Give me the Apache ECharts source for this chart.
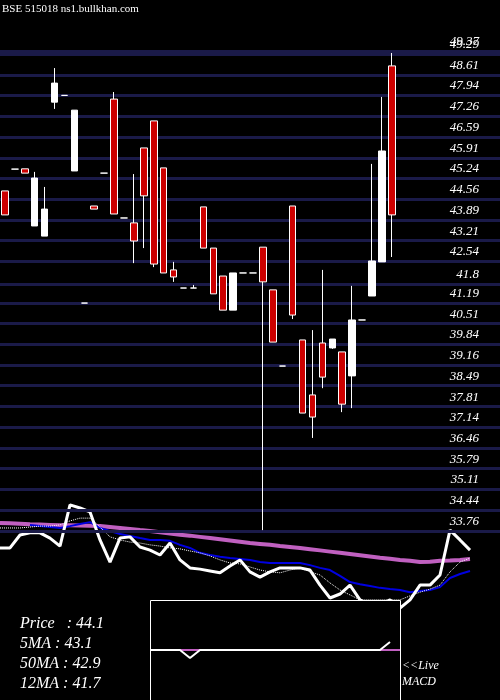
<!DOCTYPE html>
<html><head><meta charset="utf-8">
<script src="https://cdn.jsdelivr.net/npm/echarts@6/dist/echarts.min.js"></script>
<style>html,body{margin:0;padding:0;background:#000}#c{width:500px;height:700px}</style>
</head><body><div id="c"></div>
<script>
const opens  = [44.83,45.54,45.55,43.69,43.36,47.72,47.94,45.48,41.18,44.34,45.41,47.82,43.95,43.79,46.23,47.11,45.58,42.26,41.67,41.67,44.31,42.97,42.06,40.95,42.16,42.16,43.00,41.61,39.13,44.34,39.98,38.19,39.88,39.72,39.59,38.81,40.63,41.41,42.52,48.90];
const closes = [44.05,45.54,45.41,45.25,44.24,48.34,47.94,47.46,41.18,44.24,45.41,44.08,43.95,43.20,44.67,42.45,42.16,42.03,41.67,41.67,42.97,41.48,40.95,42.16,42.16,42.16,41.87,39.91,39.13,40.79,37.60,37.47,38.77,40.01,37.89,40.63,40.63,42.55,46.13,44.05];
const lows   = [44.05,45.54,45.41,43.69,43.36,47.50,47.94,45.48,41.18,44.24,45.41,44.08,43.95,42.48,42.97,42.35,42.16,41.87,41.67,41.67,42.97,41.48,40.95,40.95,42.16,42.16,33.79,39.91,39.13,40.66,37.60,36.79,38.41,39.69,37.63,37.76,40.63,41.41,42.52,42.68];
const highs  = [44.83,45.54,45.55,45.45,44.96,48.83,47.94,47.46,41.18,44.34,45.41,48.05,43.95,45.38,46.23,47.11,45.58,42.52,41.67,41.77,44.31,42.97,42.06,42.16,42.16,42.16,43.00,41.61,39.13,44.34,39.98,40.30,42.26,40.01,39.59,41.74,40.63,45.71,47.89,49.32];
const tickLabels = ["49.37","49.29","48.61","47.94","47.26","46.59","45.91","45.24","44.56","43.89","43.21","42.54","41.8","41.19","40.51","39.84","39.16","38.49","37.81","37.14","36.46","35.79","35.11","34.44","33.76"];
const lineWhite  = [33.21,33.21,33.63,33.70,33.70,33.53,33.27,34.61,34.51,34.38,33.47,32.75,33.53,33.57,33.24,33.14,32.98,33.37,32.82,32.56,32.52,32.46,32.40,32.62,32.82,32.43,32.26,32.43,32.56,32.56,32.56,32.49,32.00,31.58,31.71,32.00,31.52,31.35,31.35,31.52,31.25,31.52,32.00,32.00,32.33,33.79,33.47,33.14];
const lineMagenta= [34.02,34.01,34.00,33.98,33.97,33.96,33.95,33.95,33.94,33.93,33.92,33.89,33.86,33.83,33.79,33.76,33.72,33.68,33.64,33.61,33.57,33.53,33.49,33.45,33.41,33.37,33.34,33.31,33.27,33.24,33.21,33.17,33.13,33.09,33.05,33.01,32.97,32.93,32.89,32.86,32.82,32.79,32.75,32.76,32.79,32.80,32.82,32.85];
const lineBlue   = [null,null,null,33.96,33.92,33.89,33.86,33.92,33.99,34.05,33.86,33.76,33.66,33.60,33.53,33.47,33.47,33.44,33.31,33.21,33.05,32.98,32.92,32.88,32.85,32.82,32.75,32.72,32.72,32.72,32.72,32.65,32.56,32.49,32.30,32.10,32.03,31.97,31.91,31.87,31.84,31.77,31.81,31.84,31.94,32.23,32.36,32.46];
const lineDotted = [33.86,33.86,33.86,33.89,33.92,33.92,33.96,34.09,34.18,34.18,33.89,33.57,33.47,33.40,33.37,33.31,33.27,33.21,33.18,33.11,33.05,32.95,32.82,32.72,32.69,32.59,32.49,32.43,32.40,32.49,32.56,32.43,32.33,32.07,31.84,31.68,31.52,31.52,31.52,31.52,31.52,31.65,31.77,31.87,32.00,32.43,32.75,32.88];
const macdLine   = [0,0,0,0,-0.8,0,0,0,0,0,0,0,0,0,0,0,0,0,0,0,0,0,0,0,0.8,null];
const signalLine = [0,0,0,0,0,0,0,0,0,0,0,0,0,0,0,0,0,0,0,0,0,0,0,0,0,0];
const infoTexts = ["Price   : 44.1","5MA : 43.1","50MA : 42.9","12MA : 41.7"];

const YMIN = 28.26, YMAX = 51.045;
const chart = echarts.init(document.getElementById('c'));
const font = 'Liberation Serif';
const idx = (n)=>Array.from({length:n},(_, i)=>i);
chart.setOption({
  backgroundColor:'#000',
  animation:false,
  grid:[
    {left:0,right:0,top:0,bottom:0},
    {left:0,right:18,top:0,bottom:0},
    {left:-2,top:0,width:398.8,bottom:0},
    {left:0,top:0,width:470,bottom:0},
    {left:150,top:600,width:250,height:100}
  ],
  xAxis:[
    {gridIndex:0,type:'value',min:0,max:1,show:false},
    {gridIndex:1,type:'value',min:0,max:1,show:false},
    {gridIndex:2,type:'category',data:idx(40),show:false},
    {gridIndex:3,type:'category',data:idx(48),boundaryGap:false,show:false},
    {gridIndex:4,type:'category',data:idx(26),boundaryGap:false,show:false}
  ],
  yAxis:[
    {gridIndex:0,type:'value',min:YMIN,max:YMAX,show:false,splitLine:{show:false}},
    {gridIndex:1,type:'value',min:YMIN,max:YMAX,show:false,splitLine:{show:false}},
    {gridIndex:2,type:'value',min:YMIN,max:YMAX,show:false,splitLine:{show:false}},
    {gridIndex:3,type:'value',min:YMIN,max:YMAX,show:false,splitLine:{show:false}},
    {gridIndex:4,type:'value',min:-5,max:5,show:false,splitLine:{show:false}}
  ],
  graphic:[
    {type:'text',left:2,top:4,style:{text:'BSE 515018 ns1.bullkhan.com',fill:'#fff',font:'11px "'+font+'"'}},
    {type:'rect',shape:{x:150.5,y:600.5,width:250,height:110},style:{fill:'#000',stroke:'#fff',lineWidth:1},z:50},
    {type:'text',left:402,top:658,z:70,style:{text:'<<Live\nMACD',fill:'#fff',font:'italic 12px "'+font+'"',lineHeight:16}},
    ...infoTexts.map((t,i)=>({type:'text',left:20,top:616+i*20,z:70,style:{text:t,fill:'#fff',font:'italic 16px "'+font+'"'}}))
  ],
  series:[
    {type:'line',xAxisIndex:0,yAxisIndex:0,data:[],z:1,
      markLine:{symbol:'none',silent:true,label:{show:false},
        lineStyle:{color:'#1a1a48',width:3,type:'solid'},
        data:tickLabels.map(t=>({yAxis:parseFloat(t)}))}},
    {type:'line',xAxisIndex:1,yAxisIndex:1,data:[],z:3,
      markLine:{symbol:'none',silent:true,lineStyle:{color:'rgba(0,0,0,0)',width:1},
        label:{show:true,position:'insideEndTop',distance:3,color:'#fff',fontStyle:'italic',fontFamily:font,fontSize:13,formatter:p=>p.name},
        data:tickLabels.map(t=>({yAxis:parseFloat(t),name:t}))}},
    {type:'line',xAxisIndex:3,yAxisIndex:3,data:lineMagenta,symbol:'none',z:4,lineStyle:{color:'#c060c0',width:4}},
    {type:'line',xAxisIndex:3,yAxisIndex:3,data:lineBlue,symbol:'none',z:4,lineStyle:{color:'#0000e0',width:2}},
    {type:'line',xAxisIndex:3,yAxisIndex:3,data:lineDotted,symbol:'none',z:4,lineStyle:{color:'#fff',width:1,type:'dotted'}},
    {type:'line',xAxisIndex:3,yAxisIndex:3,data:lineWhite,symbol:'none',z:4,lineStyle:{color:'#fff',width:3}},
    {type:'candlestick',xAxisIndex:2,yAxisIndex:2,z:5,barWidth:7,
      itemStyle:{color:'#fff',color0:'#cc0000',borderColor:'#fff',borderColor0:'#fff',borderWidth:1},
      data:opens.map((o,i)=>[o,closes[i],lows[i],highs[i]])},
    {type:'line',xAxisIndex:4,yAxisIndex:4,data:signalLine,symbol:'none',z:60,lineStyle:{color:'#c060c0',width:2}},
    {type:'line',xAxisIndex:4,yAxisIndex:4,data:macdLine,symbol:'none',z:61,lineStyle:{color:'#fff',width:2}}
  ]
});
</script></body></html>
